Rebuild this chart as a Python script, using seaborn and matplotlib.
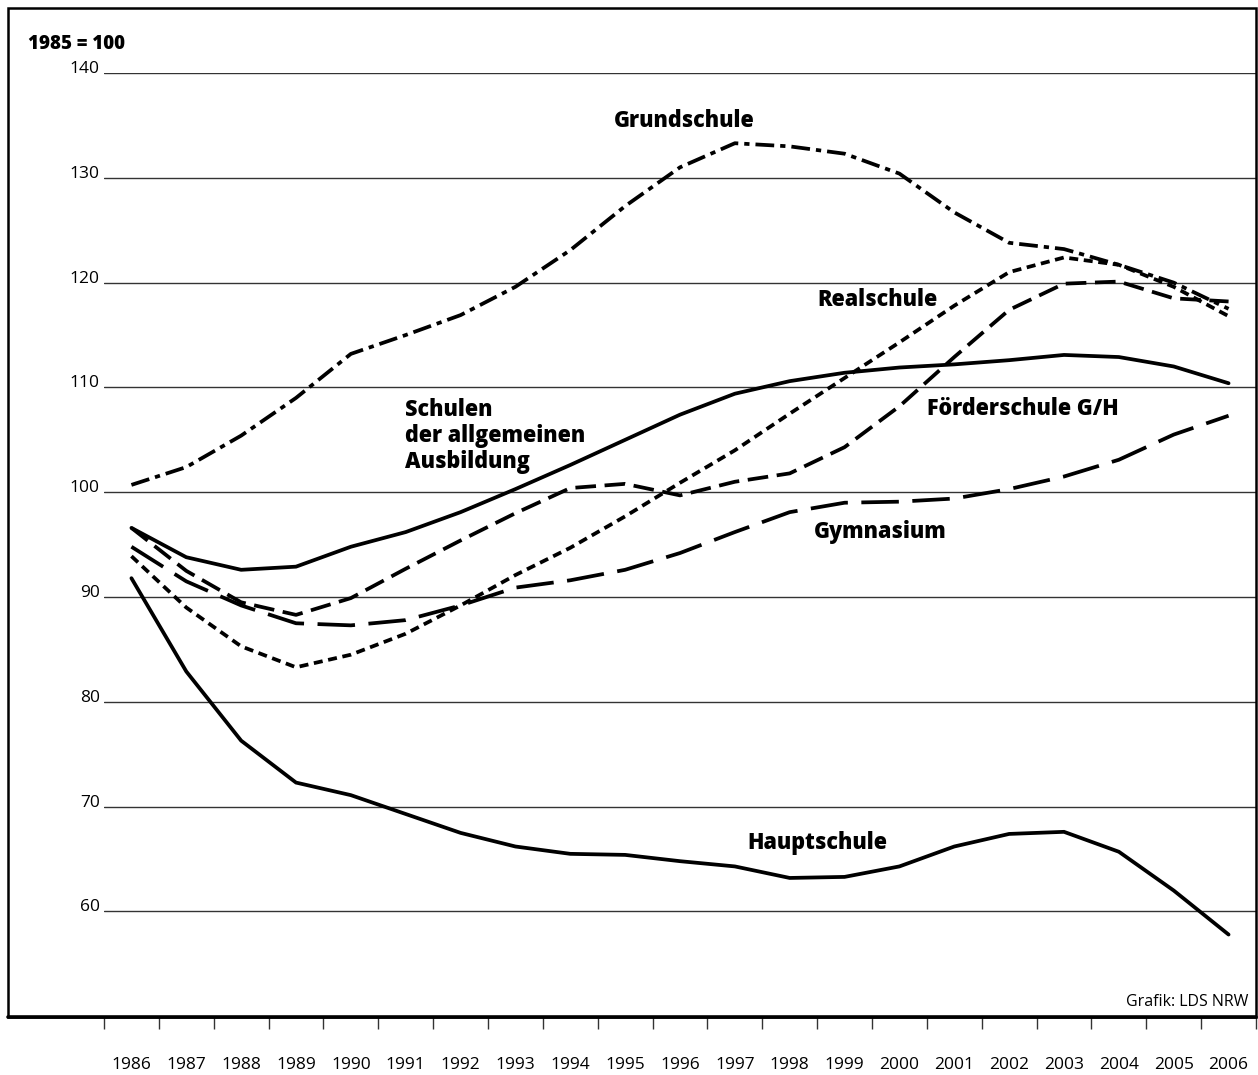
import matplotlib
matplotlib.use("Agg")
import matplotlib.pyplot as plt
import seaborn as sns
from matplotlib.patches import Rectangle
from matplotlib.lines import Line2D

years = list(range(1986, 2007))

# index values, 1985 = 100
schulen_allg = [96.6, 93.8, 92.6, 92.9, 94.8, 96.2, 98.1, 100.3, 102.6, 105.0, 107.4, 109.4,
                110.6, 111.4, 111.9, 112.2, 112.6, 113.1, 112.9, 112.0, 110.4]
grundschule = [100.7, 102.4, 105.4, 109.0, 113.2, 115.0, 116.9, 119.6, 123.1, 127.3, 131.0, 133.3,
               133.0, 132.3, 130.4, 126.7, 123.8, 123.2, 121.7, 120.0, 117.5]
realschule = [93.9, 89.0, 85.3, 83.3, 84.5, 86.5, 89.2, 92.1, 94.7, 97.7, 100.9, 104.0,
              107.5, 110.9, 114.3, 117.8, 121.0, 122.4, 121.7, 119.6, 116.8]
foerderschule = [96.6, 92.5, 89.5, 88.3, 89.9, 92.7, 95.4, 98.0, 100.4, 100.8, 99.7, 101.0,
                 101.8, 104.3, 108.2, 112.9, 117.4, 119.9, 120.1, 118.5, 118.2]
gymnasium = [94.8, 91.5, 89.2, 87.5, 87.3, 87.8, 89.2, 90.9, 91.6, 92.6, 94.2, 96.2,
             98.1, 99.0, 99.1, 99.4, 100.3, 101.5, 103.1, 105.5, 107.3]
hauptschule = [91.8, 82.9, 76.3, 72.3, 71.1, 69.3, 67.5, 66.2, 65.5, 65.4, 64.8, 64.3,
               63.2, 63.3, 64.3, 66.2, 67.4, 67.6, 65.7, 62.0, 57.8]

yticks = [60, 70, 80, 90, 100, 110, 120, 130, 140]

sns.set_theme(style="white")
plt.rcParams['font.family'] = ['Open Sans', 'DejaVu Sans']
plt.rcParams['text.color'] = 'black'
plt.rcParams['xtick.color'] = 'black'
plt.rcParams['ytick.color'] = 'black'

fig = plt.figure(figsize=(12.58, 10.75), dpi=100)
W, H = 1258, 1075
ax = fig.add_axes([104 / W, 1 - 1016.3 / H, 1152 / W, 943.3 / H])

pos = list(range(len(years)))
series = [
    (schulen_allg, "-"),
    (grundschule, (0, (5, 1.6, 1.4, 1.6))),
    (realschule, (0, (2.4, 1.5))),
    (foerderschule, (0, (5.5, 2.3))),
    (gymnasium, (0, (10, 3.6))),
    (hauptschule, "-"),
]
for vals, ls in series:
    sns.lineplot(x=pos, y=vals, ax=ax, color="black", lw=2.7, linestyle=ls,
                 solid_joinstyle="miter", dash_capstyle="butt")

ax.set_xlim(-0.5, len(years) - 0.5)
ax.set_ylim(50, 140)
ax.set_yticks(yticks)
ax.set_yticklabels([str(v) for v in yticks], fontsize=12.5)
plt.setp(ax.get_yticklabels(), va="baseline")
ax.tick_params(axis="y", length=0, pad=3)
ax.yaxis.grid(True, color="#333333", lw=1.0)
ax.set_axisbelow(True)

ax.set_xticks(pos)
ax.set_xticklabels([str(y) for y in years], fontsize=12.5)
ax.set_xticks([p - 0.5 for p in pos] + [len(years) - 0.5], minor=True)
ax.tick_params(axis="x", which="major", length=0, pad=29)
ax.tick_params(axis="x", which="minor", bottom=True, length=9.5, width=1.0, color="#333333")
ax.set_xlabel("")
ax.set_ylabel("")
for s in ax.spines.values():
    s.set_visible(False)

# outer frame
fig.patches.append(Rectangle((8 / W, 1 - 1017 / H), 1248 / W, 1009 / H, transform=fig.transFigure,
                             fill=False, ec="black", lw=1.8))
fig.lines.append(Line2D([8 / W, 1256 / W], [1 - 1017 / H, 1 - 1017 / H], transform=fig.transFigure,
                        color="black", lw=2.6))

fig.text(28 / W, 1 - 44 / H, "1985 = 100", fontsize=13.5, fontweight="heavy", va="center")
fig.text(1248 / W, 1 - 1002 / H, "Grafik: LDS NRW", fontsize=11.5, ha="right", va="center")

lab = dict(fontsize=15.5, fontweight="heavy", ha="left", va="center")
ax.text(8.80, 135.4, "Grundschule", **lab)
ax.text(12.51, 118.3, "Realschule", **lab)
ax.text(4.99, 109.0, "Schulen\nder allgemeinen\nAusbildung", fontsize=15.5, fontweight="heavy",
        ha="left", va="top", linespacing=1.1)
ax.text(14.5, 107.9, "Förderschule G/H", **lab)
ax.text(12.44, 96.2, "Gymnasium", **lab)
ax.text(11.22, 66.5, "Hauptschule", **lab)

fig.savefig("out.png", dpi=100)
